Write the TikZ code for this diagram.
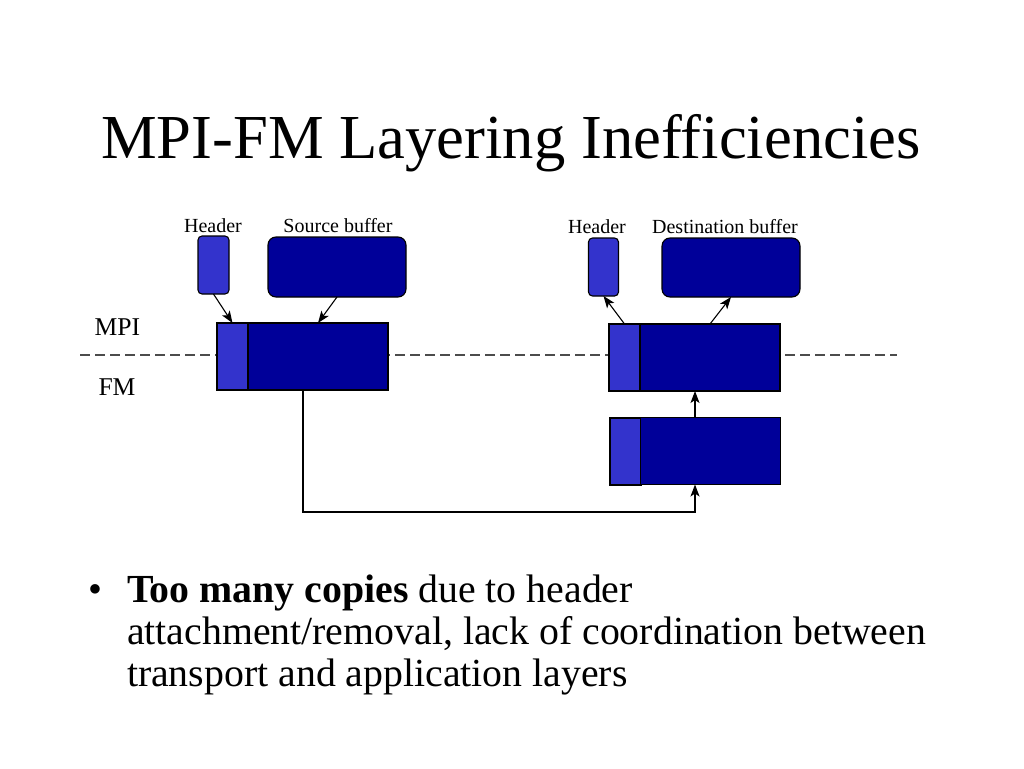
\documentclass[tikz,border=0pt]{standalone}
\usepackage{fontspec}
\setmainfont{Liberation Serif}
\usetikzlibrary{arrows.meta}
\definecolor{hdrblue}{HTML}{3333CC}
\definecolor{bufblue}{HTML}{000099}
\begin{document}
\begin{tikzpicture}[x=1pt, y=-1pt, >={Stealth[length=12pt,width=9pt,inset=3pt]},
  every node/.style={inner sep=0pt, outer sep=0pt},
  hdr/.style={draw, line width=1.1pt, fill=hdrblue, rounded corners=4pt},
  buf/.style={draw, line width=1.1pt, fill=bufblue, rounded corners=8pt},
  lblk/.style={draw, line width=1.1pt, fill=hdrblue, minimum width=31pt, minimum height=67pt},
  dblk/.style={draw, line width=1.1pt, fill=bufblue, minimum width=140pt, minimum height=67pt},
  lbl/.style={anchor=base, font=\fontsize{20}{22}\selectfont}]
\useasboundingbox (0,0) rectangle (1024,768);
\node[anchor=base, font=\fontsize{62.6}{66}\selectfont] (T) at (511,158) {MPI-FM Layering Inefficiencies};
% layer line
\draw[gray!60!black, line width=1.5pt, dash pattern=on 10pt off 5pt] (80,355) -- (897,355);
\node[anchor=base, font=\fontsize{25.6}{28}\selectfont] (MPI) at (117.5,335) {MPI};
\node[anchor=base, font=\fontsize{25.6}{28}\selectfont] (FM) at (117,395) {FM};
% sender side
\node[hdr, minimum width=31pt, minimum height=58pt] (SH) at (213.5,265) {};
\node[buf, minimum width=138pt, minimum height=60pt] (SB) at (337,267) {};
\node[lbl] (SHl) at (213,232) {Header};
\node[lbl] (SBl) at (338,232) {Source buffer};
\node[lblk] (L1H) at (232.5,356.5) {};
\node[dblk] (L1B) at (318,356.5) {};
\draw[->, line width=1.1pt] (SH.south) -- (L1H.north);
\draw[->, line width=1.1pt] (SB.south) -- (L1B.north);
% receiver side
\node[hdr, minimum width=30pt, minimum height=58pt] (DH) at (603.5,267) {};
\node[buf, minimum width=138pt, minimum height=59pt] (DB) at (731,267.5) {};
\node[lbl] (DHl) at (597,233) {Header};
\node[lbl] (DBl) at (725,233) {Destination buffer};
\node[lblk] (R1H) at (624.5,357.5) {};
\node[dblk] (R1B) at (710,357.5) {};
\node[lblk] (R2H) at (625.5,451.5) {};
\node[dblk] (R2B) at (710.5,451) {};
\draw[->, line width=1.1pt] (R1H.north) -- (DH.south);
\draw[->, line width=1.1pt] (R1B.north) -- (DB.south);
\coordinate (X1) at (695,0);
\coordinate (X0) at (303,512);
\draw[->, line width=1.1pt] (R2B.north -| X1) -- (R1B.south -| X1);
\draw[->, line width=1.1pt] (L1B.south -| X0) -- (X0) -| (R2B.south -| X1);
% bullet
\node[anchor=base, font=\fontsize{39.8}{42}\selectfont] (BUL) at (95,602) {\textbullet};
\node[anchor=base west, align=left, font=\fontsize{39.8}{42}\selectfont] (TXT) at (127,686)
  {\textbf{Too many copies} due to header\\attachment/removal, lack of coordination between\\transport and application layers};
\end{tikzpicture}
\end{document}
